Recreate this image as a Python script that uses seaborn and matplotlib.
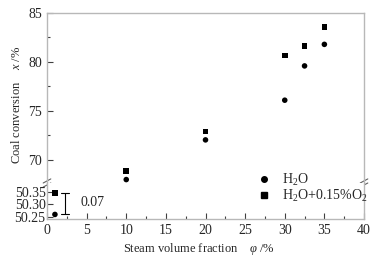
import matplotlib
matplotlib.use('Agg')
import matplotlib.pyplot as plt
import matplotlib.ticker as mticker
import seaborn as sns
import pandas as pd

# steam volume fraction (%)
steam_frac = [1, 10, 20, 30, 32.5, 35]
# coal conversion (%)
conv_h2o = [50.26, 68.0, 72.05, 76.1, 79.6, 81.8]
conv_h2o_o2 = [50.345, 68.85, 72.9, 80.65, 81.65, 83.55]

labels = ['H$_2$O', 'H$_2$O+0.15%O$_2$']

x_ticks = [0, 5, 10, 15, 20, 25, 30, 35, 40]
top_ticks = [70, 75, 80, 85]
low_ticks = [50.25, 50.30, 50.35]
gap_text = '0.07'

sns.set_theme(style='ticks')
plt.rcParams['font.family'] = ['Liberation Serif', 'DejaVu Serif']
plt.rcParams['mathtext.fontset'] = 'custom'
plt.rcParams['mathtext.rm'] = 'Liberation Serif'
plt.rcParams['mathtext.it'] = 'Liberation Serif:italic'

df = pd.DataFrame({
    'steam': steam_frac * 2,
    'conv': conv_h2o + conv_h2o_o2,
    'series': [labels[0]] * len(steam_frac) + [labels[1]] * len(steam_frac),
})

fig = plt.figure(figsize=(3.87, 2.58), dpi=100)
left, width = 47 / 387, (364 - 47) / 387
ax_top = fig.add_axes([left, 1 - 183 / 258, width, (183 - 13) / 258])
ax_low = fig.add_axes([left, 1 - 219 / 258, width, (219 - 183) / 258])

spine_col = '#b8b8b8'
for ax in (ax_top, ax_low):
    sns.scatterplot(data=df, x='steam', y='conv', style='series',
                    markers={labels[0]: 'o', labels[1]: 's'},
                    color='black', s=16, edgecolor='none', ax=ax, legend=False)
    ax.set_xlim(0, 40)
    ax.set_xlabel('')
    ax.set_ylabel('')
    for sp in ax.spines.values():
        sp.set_color(spine_col)
        sp.set_linewidth(1.0)
    ax.tick_params(direction='in', labelsize=10, color='#404040', length=4, width=0.8)
    ax.tick_params(which='minor', direction='in', color='#404040', length=2, width=0.8)

ax_top.set_ylim(67.65, 85)
ax_top.set_yticks(top_ticks)
ax_top.yaxis.set_minor_locator(mticker.MultipleLocator(2.5))
ax_top.spines['bottom'].set_visible(False)
ax_top.tick_params(axis='x', which='both', bottom=False, labelbottom=False)

ax_low.set_ylim(50.242, 50.384)
ax_low.set_yticks(low_ticks)
ax_low.yaxis.set_major_formatter(mticker.FormatStrFormatter('%.2f'))
ax_low.spines['top'].set_visible(False)
ax_low.set_xticks(x_ticks)
ax_low.xaxis.set_minor_locator(mticker.MultipleLocator(2.5))
ax_low.tick_params(axis='y', pad=1)

# break marks
for xpos in (0, 1):
    for dy in (-0.012, 0.012):
        ax_top.plot([xpos - 0.012, xpos + 0.012], [dy - 0.012, dy + 0.012],
                    transform=ax_top.transAxes, color='#606060', lw=0.8, clip_on=False)

# difference bracket
x_br = 2.3
ax_low.plot([x_br, x_br], [conv_h2o[0], conv_h2o_o2[0]], color='black', lw=0.8)
for yv in (conv_h2o[0], conv_h2o_o2[0]):
    ax_low.plot([x_br - 0.5, x_br + 0.5], [yv, yv], color='black', lw=0.8)
ax_low.text(4.2, (conv_h2o[0] + conv_h2o_o2[0]) / 2 + 0.004, gap_text,
            ha='left', va='center', fontsize=10)

ax_top.set_ylabel('Coal conversion    $x$ /%', fontsize=9)
ax_top.yaxis.set_label_coords(-0.075, 0.46)
ax_low.set_xlabel('Steam volume fraction    $\\varphi$ /%', fontsize=9)
ax_low.xaxis.set_label_coords(0.478, -0.62)

handles = [
    plt.Line2D([], [], marker='o', color='black', ls='none', markersize=4),
    plt.Line2D([], [], marker='s', color='black', ls='none', markersize=4),
]
fig.legend(handles, labels, loc='upper left', bbox_to_anchor=(0.647, 0.36),
           frameon=False, fontsize=10, handlelength=1.0, handletextpad=0.8,
           labelspacing=-0.05, borderpad=0)

fig.savefig('out.png', dpi=100)
